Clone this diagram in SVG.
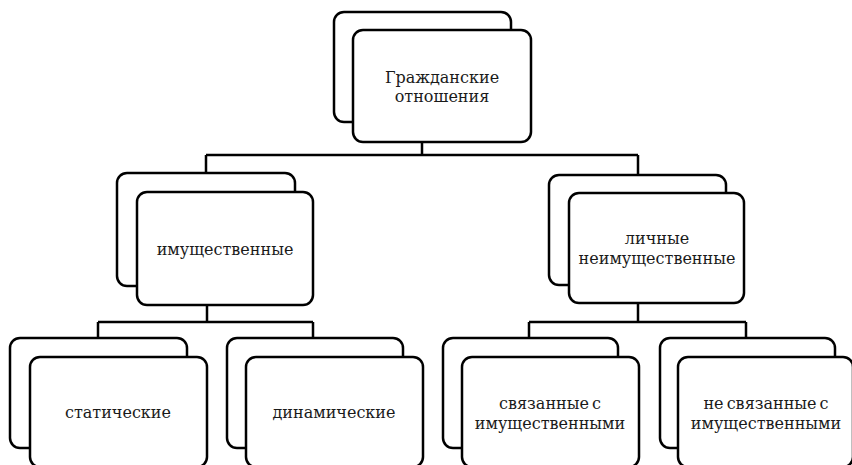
<svg xmlns="http://www.w3.org/2000/svg" width="852" height="465" viewBox="0 0 852 465">
<style>
.b{fill:#fff;stroke:#000;stroke-width:2.5}
.t{font-family:"DejaVu Serif",serif;font-size:16px;fill:#1a1a1a;text-anchor:middle;word-spacing:-2px}
.c{fill:none;stroke:#000;stroke-width:2.5}
</style>
<rect width="852" height="465" fill="#fff"/>
<g id="connectors">
<path class="c" d="M422 142V155M206 155H638M206 155V173M638 155V175"/>
<path class="c" d="M207 305V322M98 322H313M98 322V338M313 322V338"/>
<path class="c" d="M638 303V322M529 322H746M529 322V338M746 322V338"/>
</g>
<g id="root">
<rect class="b" x="334" y="12" width="177" height="110" rx="10"/>
<rect class="b" x="353" y="30" width="178" height="112" rx="10"/>
<text class="t" x="442" y="83">Гражданские</text>
<text class="t" x="442" y="102">отношения</text>
</g>
<g id="property">
<rect class="b" x="117" y="173" width="178" height="113" rx="10"/>
<rect class="b" x="137" y="192" width="176" height="113" rx="10"/>
<text class="t" x="225" y="255">имущественные</text>
</g>
<g id="personal">
<rect class="b" x="549" y="175" width="177" height="110" rx="10"/>
<rect class="b" x="569" y="193" width="175" height="110" rx="10"/>
<text class="t" x="657" y="244">личные</text>
<text class="t" x="657" y="264">неимущественные</text>
</g>
<g id="static">
<rect class="b" x="10" y="338" width="177" height="110" rx="10"/>
<rect class="b" x="30" y="357" width="177" height="110" rx="10"/>
<text class="t" x="118" y="418">статические</text>
</g>
<g id="dynamic">
<rect class="b" x="227" y="338" width="176" height="110" rx="10"/>
<rect class="b" x="246" y="357" width="177" height="110" rx="10"/>
<text class="t" x="334" y="418">динамические</text>
</g>
<g id="related">
<rect class="b" x="443" y="338" width="175" height="110" rx="10"/>
<rect class="b" x="462" y="357" width="177" height="110" rx="10"/>
<text class="t" x="550" y="409">связанные с</text>
<text class="t" x="550" y="429">имущественными</text>
</g>
<g id="unrelated">
<rect class="b" x="660" y="338" width="175" height="110" rx="10"/>
<rect class="b" x="678" y="357" width="175" height="110" rx="10"/>
<text class="t" x="766" y="409">не связанные с</text>
<text class="t" x="766" y="429">имущественными</text>
</g>
</svg>
